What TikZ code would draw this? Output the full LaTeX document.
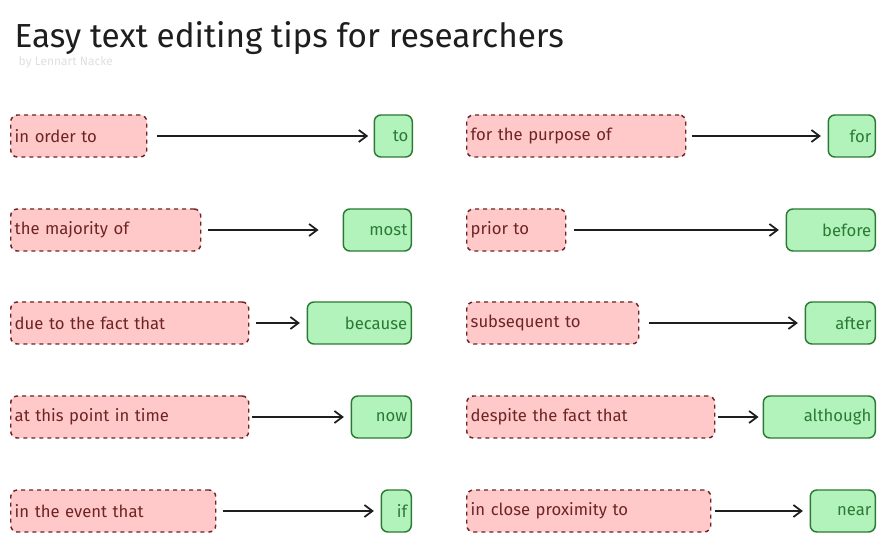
\documentclass[tikz,border=0pt]{standalone}
\usepackage{fontspec}
\setmainfont{Fira Sans}
\usetikzlibrary{arrows.meta}
\definecolor{rfill}{HTML}{FFC9C9}
\definecolor{rdraw}{HTML}{6E2424}
\definecolor{gfill}{HTML}{B2F2BB}
\definecolor{gdraw}{HTML}{2B7A34}
\definecolor{ink}{HTML}{1E1E1E}
\tikzset{
  rbox/.style={draw=rdraw,fill=rfill,dashed,line width=1.1pt,rounded corners=5pt,text=rdraw,font=\fontsize{12.5}{14}\selectfont,anchor=west,minimum height=31.5pt,inner sep=3pt,align=left},
  gbox/.style={draw=gdraw,fill=gfill,line width=1.1pt,rounded corners=5pt,text=gdraw,font=\fontsize{12.5}{14}\selectfont,anchor=east,minimum height=31.5pt,inner sep=3pt,align=right},
  arr/.style={draw=ink,line width=1.3pt,-{Straight Barb[length=6pt,width=9pt]}}
}
\newcommand{\pair}[8]{% name, y, rx1, rx2, gx1, gx2, rtext, gtext ; arrow shorten params global
  \node[rbox,minimum width={(#4-#3)*0.75pt},text width={(#4-#3)*0.75pt-6pt}] (r#1) at (#3,#2) {#7};
  \node[gbox,minimum width={(#6-#5)*0.75pt},text width={(#6-#5)*0.75pt-6pt}] (g#1) at (#6,#2) {#8};
}
\begin{document}
\begin{tikzpicture}[x=0.75pt,y=-0.75pt]
\useasboundingbox[fill=white] (0,0) rectangle (886,545);
\node[anchor=west,text=ink,font=\fontsize{25}{28}\selectfont] (title) at (10,38) {Easy text editing tips for researchers};
\node[anchor=west,text=black!12,font=\fontsize{9}{10}\selectfont] (sub) at (14,62) {by Lennart Nacke};
\pair{a}{136}{10}{146}{375}{413}{in order to}{to}
\pair{b}{230}{10}{200}{344}{412}{the majority of}{most}
\pair{c}{323}{10}{248}{308}{412}{due to the fact that}{because}
\pair{d}{417}{10}{248}{352}{412}{at this point in time}{now}
\pair{e}{511}{10}{215}{382}{412}{in the event that}{if}
\pair{f}{136}{466}{685}{829}{876}{for the purpose of}{for}
\pair{g}{230}{466}{565}{787}{876}{prior to}{before}
\pair{h}{323}{466}{638}{806}{876}{subsequent to}{after}
\pair{i}{417}{466}{714}{764}{876}{despite the fact that}{although}
\pair{j}{511}{466}{710}{811}{876}{in close proximity to}{near}
\draw[arr,shorten <=7pt,shorten >=4pt] (ra) -- (ga);
\draw[arr,shorten <=5pt,shorten >=18pt] (rb) -- (gb);
\draw[arr,shorten <=5pt,shorten >=5pt] (rc) -- (gc);
\draw[arr,shorten <=2pt,shorten >=5pt] (rd) -- (gd);
\draw[arr,shorten <=5pt,shorten >=5pt] (re) -- (ge);
\draw[arr,shorten <=4pt,shorten >=5pt] (rf) -- (gf);
\draw[arr,shorten <=6pt,shorten >=5pt] (rg) -- (gg);
\draw[arr,shorten <=7pt,shorten >=5pt] (rh) -- (gh);
\draw[arr,shorten <=2pt,shorten >=3pt] (ri) -- (gi);
\draw[arr,shorten <=3pt,shorten >=5pt] (rj) -- (gj);
\end{tikzpicture}
\end{document}
